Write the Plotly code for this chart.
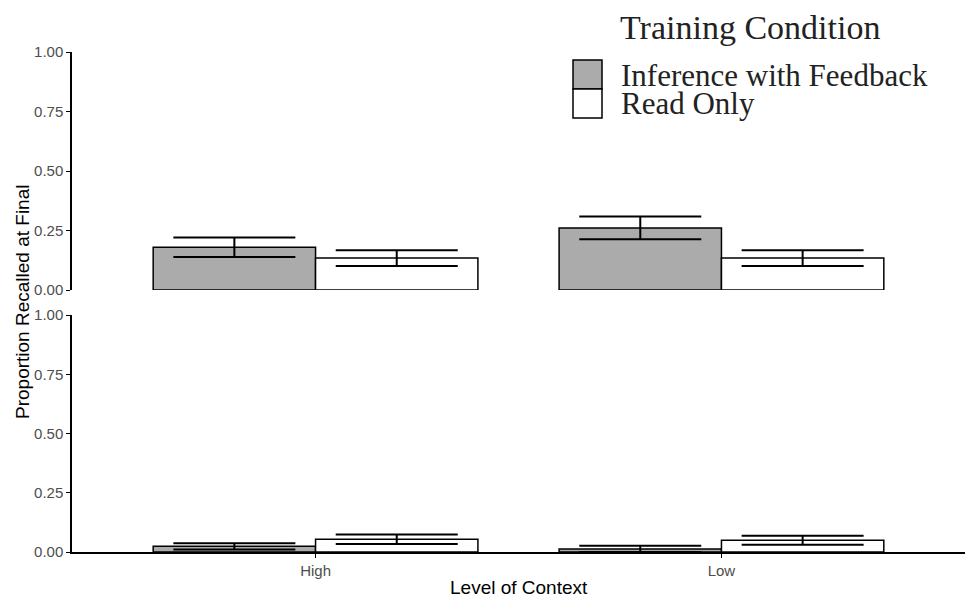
import plotly.graph_objects as go

# ---------------- data ----------------
contexts = ["High", "Low"]
conditions = ["Inference with Feedback", "Read Only"]
fills = ["#ABABAB", "#FFFFFF"]

# top panel
top_inf_mean = [0.180, 0.261]
top_inf_se = [0.041, 0.048]
top_read_mean = [0.134, 0.134]
top_read_se = [0.033, 0.033]

# bottom panel
bot_inf_mean = [0.024, 0.013]
bot_inf_se = [0.013, 0.013]
bot_read_mean = [0.054, 0.050]
bot_read_se = [0.020, 0.019]

y_ticks = [0, 0.25, 0.5, 0.75, 1.0]

# ---------------- layout geometry ----------------
W, H = 965, 597
ML, MR, MT, MB = 72, 0, 52, 45
PW = W - ML - MR
PH = H - MT - MB


def px_x(px):
    return (px - ML) / PW


def px_y(py):
    return (H - MB - py) / PH


fig = go.Figure()

panels = [
    ("x2", "y2", [top_inf_mean, top_read_mean], [top_inf_se, top_read_se]),
    ("x", "y", [bot_inf_mean, bot_read_mean], [bot_inf_se, bot_read_se]),
]
for xa, ya, means, ses in panels:
    for cond, fill, m, s in zip(conditions, fills, means, ses):
        fig.add_trace(go.Bar(
            x=contexts, y=m, name=cond, xaxis=xa, yaxis=ya,
            marker=dict(color=fill, line=dict(color="black", width=1.5)),
            error_y=dict(type="data", array=s, visible=True, color="black",
                         thickness=2, width=61),
            showlegend=False,
        ))

tickfont = dict(family="Liberation Sans, Arial, sans-serif", size=15, color="#4D4D4D")
yax_common = dict(range=[0, 1], tickvals=y_ticks, tickformat=".2f",
                  showline=True, linecolor="black", linewidth=1.5,
                  ticks="outside", ticklen=4, tickcolor="black", tickwidth=1.2,
                  showgrid=False, zeroline=False, tickfont=tickfont)

fig.update_layout(
    width=W, height=H,
    margin=dict(l=ML, r=MR, t=MT, b=MB),
    paper_bgcolor="white", plot_bgcolor="white",
    barmode="group", bargap=0.2, bargroupgap=0,
    xaxis=dict(domain=[0, 1], range=[-0.6, 1.6], type="category", anchor="y",
               showline=True, linecolor="black", linewidth=1.5,
               ticks="outside", ticklen=4, tickcolor="black", tickwidth=1.2,
               showgrid=False, zeroline=False, tickfont=tickfont),
    xaxis2=dict(domain=[0, 1], range=[-0.6, 1.6], type="category", anchor="y2",
                matches="x", showline=False, ticks="", showticklabels=False,
                showgrid=False, zeroline=False),
    yaxis=dict(domain=[0, 0.474], anchor="x", **yax_common),
    yaxis2=dict(domain=[0.524, 1], anchor="x2", **yax_common),
)

# axis titles
fig.add_annotation(text="Proportion Recalled at Final", xref="paper", yref="paper",
                   x=px_x(22), y=0.5, textangle=-90, showarrow=False,
                   xanchor="center", yanchor="middle",
                   font=dict(family="Liberation Sans, Arial, sans-serif", size=19, color="black"))
fig.add_annotation(text="Level of Context", xref="paper", yref="paper",
                   x=0.5, y=px_y(587), showarrow=False,
                   xanchor="center", yanchor="middle",
                   font=dict(family="Liberation Sans, Arial, sans-serif", size=19, color="black"))

# custom legend
serif = "Liberation Serif, Times New Roman, serif"
fig.add_annotation(text="Training Condition", xref="paper", yref="paper",
                   x=px_x(618), y=px_y(28), showarrow=False,
                   xanchor="left", yanchor="middle",
                   font=dict(family=serif, size=34, color="#222222"))
legend_rows = [(60, 89, 75), (89, 118, 103)]
for cond, fill, (y0, y1, yc) in zip(conditions, fills, legend_rows):
    fig.add_shape(type="rect", xref="paper", yref="paper",
                  x0=px_x(573), x1=px_x(602), y0=px_y(y1), y1=px_y(y0),
                  fillcolor=fill, line=dict(color="black", width=1.5))
    fig.add_annotation(text=cond, xref="paper", yref="paper",
                       x=px_x(619), y=px_y(yc), showarrow=False,
                       xanchor="left", yanchor="middle",
                       font=dict(family=serif, size=31, color="#222222"))

fig.write_html("out.html",
               config={"displayModeBar": False},
               post_script="document.body.style.margin='0';"
                           "document.body.style.overflow='hidden';")
